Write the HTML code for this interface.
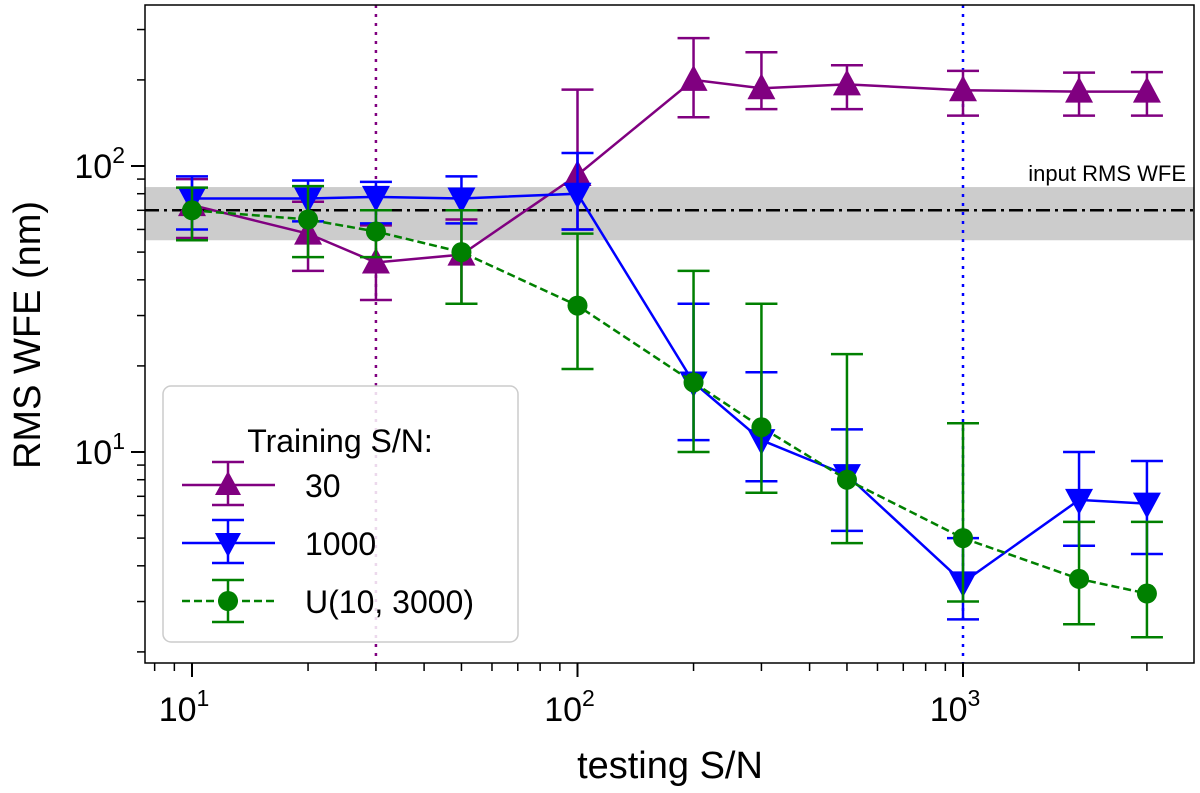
<!DOCTYPE html>
<html><head><meta charset="utf-8"><style>
body{margin:0;background:#fff}
svg{display:block;font-family:"Liberation Sans",sans-serif}
</style></head><body>
<svg id="c" width="1200" height="793"></svg>
<script>
const xs=[10,20,30,50,100,200,300,500,1000,2000,3000];
const s30=[73,58,46,49,93,200,187,193,184,182,182];
const s30lo=[56,43,34,33,60,148,158,158,150,150,150];
const s30hi=[90,75,62,65,185,280,250,225,215,212,213];
const s1000=[77,77,78,77,80,17.5,11,8.3,3.5,6.8,6.6];
const s1000lo=[60,64,63,63,60,11,7.9,5.3,2.6,4.7,4.4];
const s1000hi=[92,89,88,92,111,33,19,12,5.0,10,9.3];
const sU=[70,65,59,50,32.5,17.5,12.2,8.0,5.0,3.6,3.2];
const sUlo=[55,48,48,33,19.5,10,7.2,4.8,3.0,2.5,2.25];
const sUhi=[84,85,70,70,58,43,33,22,12.6,5.7,5.7];
const xTicks=[10,100,1000];
const yTicks=[10,100];
const inputRMS=70, inputLo=55, inputHi=84.4;
const L=145,R=1194,T=5,B=663;
const X=v=>192+(Math.log10(v)-1)*385.5;
const Y=v=>452-(Math.log10(v)-1)*286;
const svg=document.getElementById('c');const NS='http://www.w3.org/2000/svg';
function mk(t,a,p){const e=document.createElementNS(NS,t);for(const k in a)e.setAttribute(k,a[k]);(p||svg).appendChild(e);return e;}
const band=mk('rect',{x:L,y:Y(inputHi),width:R-L,height:Y(inputLo)-Y(inputHi),fill:'#cccccc'});

const hl=mk('line',{x1:L,x2:R,y1:Y(inputRMS),y2:Y(inputRMS),stroke:'#000','stroke-width':2.5,'stroke-dasharray':'14,5,3,5'});

const t=mk('text',{x:1186,y:181,'font-size':22,'text-anchor':'end'});t.textContent='input RMS WFE';

const v1=mk('line',{x1:X(30),x2:X(30),y1:T,y2:B,stroke:'#800080','stroke-width':2.5,'stroke-dasharray':'3,6'});

const v2=mk('line',{x1:X(1000),x2:X(1000),y1:T,y2:B,stroke:'#0000ff','stroke-width':2.5,'stroke-dasharray':'3,6'});

function marker(type,x,y,c,g){
 if(type==='up')return mk('path',{d:`M${x},${y-15}L${x+14},${y+11}L${x-14},${y+11}Z`,fill:c},g);
 if(type==='down')return mk('path',{d:`M${x},${y+15}L${x+14},${y-11}L${x-14},${y-11}Z`,fill:c},g);
 return mk('circle',{cx:x,cy:y,r:10,fill:c},g);
}
function series(name,vals,lo,hi,c,dash,type){
 const g=mk('g',{});
 xs.forEach((x,i)=>{const px=X(x);
  mk('line',{x1:px,x2:px,y1:Y(lo[i]),y2:Y(hi[i]),stroke:c,'stroke-width':2.5},g);
  mk('line',{x1:px-16,x2:px+16,y1:Y(lo[i]),y2:Y(lo[i]),stroke:c,'stroke-width':2.5},g);
  mk('line',{x1:px-16,x2:px+16,y1:Y(hi[i]),y2:Y(hi[i]),stroke:c,'stroke-width':2.5},g);});
 mk('polyline',{points:xs.map((x,i)=>X(x)+','+Y(vals[i])).join(' '),fill:'none',stroke:c,'stroke-width':2.5,'stroke-dasharray':dash||''},g);
 xs.forEach((x,i)=>marker(type,X(x),Y(vals[i]),c,g));
}
series('series-train-30',s30,s30lo,s30hi,'#800080','','up');
series('series-train-1000',s1000,s1000lo,s1000hi,'#0000ff','','down');
series('series-train-uniform',sU,sUlo,sUhi,'#008000','8,4','circle');
const fr=mk('rect',{x:L,y:T,width:R-L,height:B-T,fill:'none',stroke:'#000','stroke-width':1.5});

for(let d=0;d<=3;d++)for(let m=1;m<10;m++){const v=m*Math.pow(10,d);if(v<7.7||v>3900)continue;
 const px=X(v);mk('line',{x1:px,x2:px,y1:B,y2:B+(m===1?14:8),stroke:'#000','stroke-width':m===1?2:1.5});}
xTicks.forEach(v=>{const tx=mk('text',{x:X(v)-8,y:B+58,'font-size':34,'text-anchor':'middle'});tx.innerHTML='10<tspan dy="-15" font-size="23">'+Math.log10(v)+'</tspan>';
 });
for(let d=0;d<=2;d++)for(let m=1;m<10;m++){const v=m*Math.pow(10,d);if(v<1.84||v>360)continue;
 const py=Y(v);mk('line',{x1:L,x2:L-(m===1?14:8),y1:py,y2:py,stroke:'#000','stroke-width':m===1?2:1.5});}
yTicks.forEach(v=>{const tx=mk('text',{x:L-20,y:Y(v)+12,'font-size':34,'text-anchor':'end'});tx.innerHTML='10<tspan dy="-15" font-size="23">'+Math.log10(v)+'</tspan>';
 });
</script>
<svg style="position:absolute;left:0;top:0" width="1200" height="793">
<text x="670" y="778" font-size="38" text-anchor="middle" font-family="Liberation Sans,sans-serif">testing S/N</text>
<text transform="translate(40,335) rotate(-90)" font-size="38" text-anchor="middle" font-family="Liberation Sans,sans-serif">RMS WFE (nm)</text>
<g font-family="Liberation Sans,sans-serif">
<rect x="163" y="386" width="355" height="256" rx="8" fill="#fff" fill-opacity="0.85" stroke="#ccc" stroke-width="1.5"/>
<text x="340" y="452" font-size="32" text-anchor="middle">Training S/N:</text>
<g><line x1="182" x2="275" y1="485" y2="485" stroke="#800080" stroke-width="2.5"/><line x1="228" x2="228" y1="462" y2="505" stroke="#800080" stroke-width="2.5"/><line x1="212" x2="244" y1="462" y2="462" stroke="#800080" stroke-width="2.5"/><line x1="212" x2="244" y1="505" y2="505" stroke="#800080" stroke-width="2.5"/><path d="M228,471L241,495L215,495Z" fill="#800080"/><text x="305" y="497" font-size="32">30</text></g>
<g><line x1="182" x2="275" y1="543" y2="543" stroke="#0000ff" stroke-width="2.5"/><line x1="228" x2="228" y1="520" y2="563" stroke="#0000ff" stroke-width="2.5"/><line x1="212" x2="244" y1="520" y2="520" stroke="#0000ff" stroke-width="2.5"/><line x1="212" x2="244" y1="563" y2="563" stroke="#0000ff" stroke-width="2.5"/><path d="M228,557L241,533L215,533Z" fill="#0000ff"/><text x="305" y="555" font-size="32">1000</text></g>
<g><line x1="182" x2="275" y1="601" y2="601" stroke="#008000" stroke-width="2.5" stroke-dasharray="8,4"/><line x1="228" x2="228" y1="580" y2="622" stroke="#008000" stroke-width="2.5"/><line x1="212" x2="244" y1="580" y2="580" stroke="#008000" stroke-width="2.5"/><line x1="212" x2="244" y1="622" y2="622" stroke="#008000" stroke-width="2.5"/><circle cx="228" cy="601" r="10" fill="#008000"/><text x="305" y="613" font-size="32">U(10, 3000)</text></g>
</g>
</svg>
</body></html>
